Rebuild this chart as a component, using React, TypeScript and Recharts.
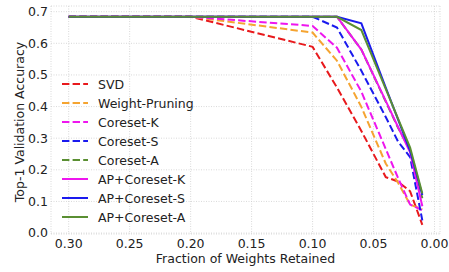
import React from 'react';
import { LineChart, Line, XAxis, YAxis, CartesianGrid, Legend, ReferenceArea } from 'recharts';

const fractions = [0.30, 0.20, 0.10, 0.08, 0.06, 0.04, 0.03, 0.02, 0.01];
const svd = [0.684, 0.684, 0.589, 0.46, 0.323, 0.177, 0.163, 0.132, 0.026];
const weightPruning = [0.684, 0.684, 0.634, 0.545, 0.399, 0.22, 0.16, 0.09, 0.075];
const coresetK = [0.684, 0.684, 0.655, 0.586, 0.447, 0.266, 0.175, 0.09, 0.072];
const coresetS = [0.684, 0.684, 0.684, 0.65, 0.513, 0.367, 0.29, 0.24, 0.04];
const coresetA = [0.684, 0.684, 0.684, 0.684, 0.58, 0.416, 0.334, 0.262, 0.11];
const apCoresetK = [0.684, 0.684, 0.684, 0.684, 0.58, 0.418, 0.336, 0.255, 0.085];
const apCoresetS = [0.684, 0.684, 0.684, 0.684, 0.663, 0.46, 0.36, 0.26, 0.12];
const apCoresetA = [0.684, 0.684, 0.684, 0.684, 0.642, 0.456, 0.363, 0.27, 0.125];

const xTicks = [0.30, 0.25, 0.20, 0.15, 0.10, 0.05, 0.00];
const yTicks = [0.0, 0.1, 0.2, 0.3, 0.4, 0.5, 0.6, 0.7];

const series = [
  { key: 'svd', name: 'SVD', values: svd, color: '#e8191c', dashed: true },
  { key: 'wp', name: 'Weight-Pruning', values: weightPruning, color: '#f5a431', dashed: true },
  { key: 'ck', name: 'Coreset-K', values: coresetK, color: '#ee16ee', dashed: true },
  { key: 'cs', name: 'Coreset-S', values: coresetS, color: '#1a1aee', dashed: true },
  { key: 'ca', name: 'Coreset-A', values: coresetA, color: '#5a8f32', dashed: true },
  { key: 'apk', name: 'AP+Coreset-K', values: apCoresetK, color: '#ee16ee', dashed: false },
  { key: 'aps', name: 'AP+Coreset-S', values: apCoresetS, color: '#1a1aee', dashed: false },
  { key: 'apa', name: 'AP+Coreset-A', values: apCoresetA, color: '#5a8f32', dashed: false },
];

const data = fractions.map((x, i) => {
  const row: Record<string, number> = { x };
  series.forEach((s) => { row[s.key] = s.values[i]; });
  return row;
});

const FONT = '"DejaVu Sans", sans-serif';
const FS = 12.5;
const DASH = '7.4 3.2';

const renderLegend = () => (
  <div style={{ fontFamily: FONT, fontSize: FS, color: '#222' }}>
    {series.map((s) => (
      <div key={s.key} style={{ display: 'flex', alignItems: 'center', height: 19, lineHeight: '19px' }}>
        <svg width={26} height={4} style={{ display: 'block' }}>
          <line x1={0} y1={2} x2={26} y2={2} stroke={s.color} strokeWidth={2}
            strokeDasharray={s.dashed ? DASH : undefined} />
        </svg>
        <span style={{ marginLeft: 10, whiteSpace: 'nowrap' }}>{s.name}</span>
      </div>
    ))}
  </div>
);

export default function App() {
  return (
    <div style={{ position: 'absolute', left: 0, top: 0, width: 449, height: 272, background: '#fff' }}>
      <LineChart width={449} height={272} data={data} margin={{ top: 6, right: 9, left: 0, bottom: 0 }}>
        <CartesianGrid stroke="#cfcfcf" strokeDasharray="1 1.5" strokeWidth={0.8} />
        <XAxis
          dataKey="x"
          type="number"
          domain={[-0.0045, 0.3145]}
          reversed
          allowDataOverflow
          ticks={xTicks}
          tickFormatter={(v: number) => v.toFixed(2)}
          height={38}
          tickLine={false}
          axisLine={false}
          tickSize={3}
          tickMargin={2}
          tick={{ fontFamily: FONT, fontSize: FS, fill: '#222' }}
          label={{
            content: () => (
              <text x={245.5} y={263} textAnchor="middle" fontFamily={FONT} fontSize={FS} fill="#222">
                Fraction of Weights Retained
              </text>
            ),
          }}
        />
        <YAxis
          type="number"
          domain={[-0.003, 0.718]}
          allowDataOverflow
          ticks={yTicks}
          tickFormatter={(v: number) => v.toFixed(1)}
          width={51}
          tickLine={false}
          axisLine={false}
          tickSize={3}
          tickMargin={0}
          tick={{ fontFamily: FONT, fontSize: FS, fill: '#222' }}
          label={{
            content: () => (
              <text x={19.5} y={122} transform="rotate(-90, 19.5, 122)" textAnchor="middle"
                dominantBaseline="central" fontFamily={FONT} fontSize={FS} fill="#222">
                Top-1 Validation Accuracy
              </text>
            ),
          }}
        />
        <ReferenceArea fill="none" stroke="#a0a0a0" strokeWidth={1.2} ifOverflow="visible" />
        {series.map((s) => (
          <Line
            key={s.key}
            dataKey={s.key}
            name={s.name}
            stroke={s.color}
            strokeWidth={2}
            strokeDasharray={s.dashed ? DASH : undefined}
            dot={false}
            activeDot={false}
            isAnimationActive={false}
            type="linear"
          />
        ))}
        <Legend
          layout="vertical"
          align="center"
          verticalAlign="middle"
          content={renderLegend}
          wrapperStyle={{ position: 'absolute', left: 62, top: 74.5, width: 'auto' }}
        />
      </LineChart>
    </div>
  );
}
